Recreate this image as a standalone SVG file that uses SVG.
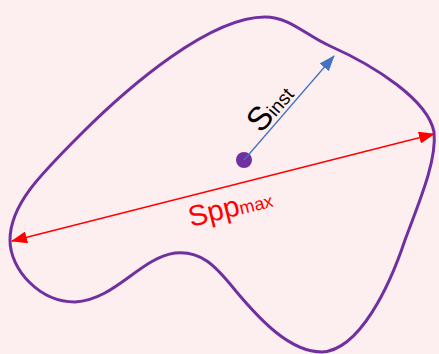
<svg xmlns="http://www.w3.org/2000/svg" width="439" height="354" viewBox="0 0 439 354">
<defs>
<style>
.shape{fill:none;stroke:#7030A0;stroke-width:3}
.lbl{font-family:"Liberation Sans",Arial,sans-serif}
</style>
<marker id="ar" viewBox="0 0 16 12" refX="15" refY="6" markerWidth="16" markerHeight="12" orient="auto-start-reverse" markerUnits="userSpaceOnUse"><path d="M0,0L16,6L0,12z" fill="#FF0000"/></marker>
<marker id="ab" viewBox="0 0 16 12" refX="15" refY="6" markerWidth="16" markerHeight="12" orient="auto" markerUnits="userSpaceOnUse"><path d="M0,0L16,6L0,12z" fill="#4472C4"/></marker>
</defs>
<rect width="439" height="354" fill="#FDEFEF"/>
<g id="region">
<path class="shape" d="M265,17 C290,17 305,35 330,46 C375,66 428,100 434,132 C437,160 420,200 405,240 C390,285 360,350 322,352 C290,352 260,320 235,290 C215,265 200,250 175,253 C140,258 115,300 75,302 C40,302 10,270 10,240 C10,205 40,175 80,135 C130,85 210,17 265,17 Z"/>
</g>
<g id="center">
<circle cx="244" cy="160" r="8" fill="#7030A0"/>
</g>
<g id="connectors">
<line x1="12" y1="241" x2="434" y2="134" stroke="#FF0000" stroke-width="1.3" marker-start="url(#ar)" marker-end="url(#ar)"/>
<line x1="244" y1="160" x2="334" y2="56" stroke="#4472C4" stroke-width="1.3" marker-end="url(#ab)"/>
</g>
<g id="labels">
<text class="lbl" transform="translate(261,134) rotate(-49)" font-size="33" fill="#000">S<tspan font-size="19">inst</tspan></text>
<text class="lbl" transform="translate(191,227) rotate(-14)" font-size="29" fill="#FF0000">Spp<tspan font-size="18">max</tspan></text>
</g>
</svg>
